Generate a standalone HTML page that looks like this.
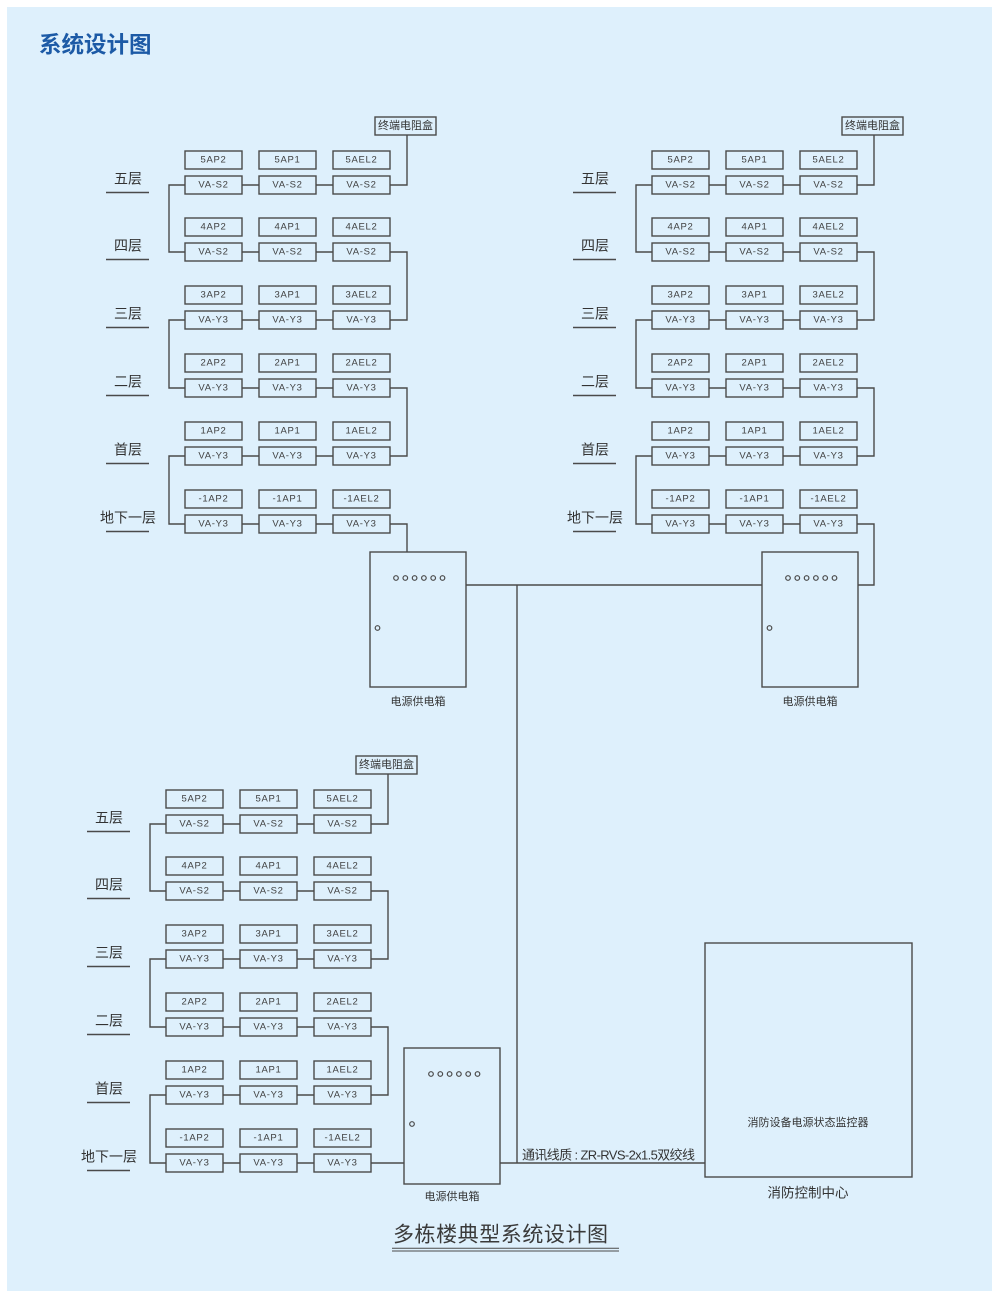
<!DOCTYPE html>
<html>
<head>
<meta charset="utf-8">
<style>
html,body{margin:0;padding:0;background:#ffffff;}
body{width:1000px;height:1301px;overflow:hidden;}
svg{display:block;}
.ln{fill:none;stroke:#4a4a4a;stroke-width:1.4;}
.bx{fill:none;stroke:#4a4a4a;stroke-width:1.4;}
.t{font-family:"Liberation Sans",sans-serif;font-size:9.5px;letter-spacing:0.7px;fill:#3f3f3f;text-anchor:middle;dominant-baseline:central;}
.fl{font-family:"Liberation Sans","Noto Sans CJK SC",sans-serif;font-size:14px;fill:#333;text-anchor:middle;dominant-baseline:central;}
.cn{font-family:"Liberation Sans","Noto Sans CJK SC",sans-serif;font-size:11px;fill:#333;text-anchor:middle;dominant-baseline:central;}
.ul{fill:none;stroke:#4a4a4a;stroke-width:1.5;}
.dot{fill:none;stroke:#4a4a4a;stroke-width:1.2;}
</style>
</head>
<body>
<svg width="1000" height="1301" viewBox="0 0 1000 1301" xmlns="http://www.w3.org/2000/svg">
<rect x="0" y="0" width="1000" height="1301" fill="#ffffff"/>
<rect x="7" y="7" width="985" height="1284" fill="#def0fc"/>
<text x="39" y="45" font-family="'Liberation Sans','Noto Sans CJK SC',sans-serif" font-size="22.5" font-weight="bold" fill="#1c5aa6" dominant-baseline="central">系统设计图</text>

<!-- ===== Building 1 (top-left) ===== -->
<g>
<path class="ln" d="M242 185H259M316 185H333M242 252H259M316 252H333M242 320H259M316 320H333M242 388H259M316 388H333M242 456H259M316 456H333M242 524H259M316 524H333"/>
<path class="ln" d="M185 185H169V252H185M185 320H169V388H185M185 456H169V524H185"/>
<path class="ln" d="M390 252H407V320H390M390 388H407V456H390"/>
<path class="ln" d="M390 185H407V135"/>
<path class="ln" d="M390 524H407V552"/>
<rect class="bx" x="375" y="117" width="61" height="18"/>
<text class="cn" x="405.5" y="126">终端电阻盒</text>
<rect class="bx" x="185" y="151" width="57" height="18"/><rect class="bx" x="259" y="151" width="57" height="18"/><rect class="bx" x="333" y="151" width="57" height="18"/>
<rect class="bx" x="185" y="176" width="57" height="18"/><rect class="bx" x="259" y="176" width="57" height="18"/><rect class="bx" x="333" y="176" width="57" height="18"/>
<rect class="bx" x="185" y="218" width="57" height="18"/><rect class="bx" x="259" y="218" width="57" height="18"/><rect class="bx" x="333" y="218" width="57" height="18"/>
<rect class="bx" x="185" y="243" width="57" height="18"/><rect class="bx" x="259" y="243" width="57" height="18"/><rect class="bx" x="333" y="243" width="57" height="18"/>
<rect class="bx" x="185" y="286" width="57" height="18"/><rect class="bx" x="259" y="286" width="57" height="18"/><rect class="bx" x="333" y="286" width="57" height="18"/>
<rect class="bx" x="185" y="311" width="57" height="18"/><rect class="bx" x="259" y="311" width="57" height="18"/><rect class="bx" x="333" y="311" width="57" height="18"/>
<rect class="bx" x="185" y="354" width="57" height="18"/><rect class="bx" x="259" y="354" width="57" height="18"/><rect class="bx" x="333" y="354" width="57" height="18"/>
<rect class="bx" x="185" y="379" width="57" height="18"/><rect class="bx" x="259" y="379" width="57" height="18"/><rect class="bx" x="333" y="379" width="57" height="18"/>
<rect class="bx" x="185" y="422" width="57" height="18"/><rect class="bx" x="259" y="422" width="57" height="18"/><rect class="bx" x="333" y="422" width="57" height="18"/>
<rect class="bx" x="185" y="447" width="57" height="18"/><rect class="bx" x="259" y="447" width="57" height="18"/><rect class="bx" x="333" y="447" width="57" height="18"/>
<rect class="bx" x="185" y="490" width="57" height="18"/><rect class="bx" x="259" y="490" width="57" height="18"/><rect class="bx" x="333" y="490" width="57" height="18"/>
<rect class="bx" x="185" y="515" width="57" height="18"/><rect class="bx" x="259" y="515" width="57" height="18"/><rect class="bx" x="333" y="515" width="57" height="18"/>
<text class="t" x="213.5" y="160">5AP2</text><text class="t" x="287.5" y="160">5AP1</text><text class="t" x="361.5" y="160">5AEL2</text>
<text class="t" x="213.5" y="185">VA-S2</text><text class="t" x="287.5" y="185">VA-S2</text><text class="t" x="361.5" y="185">VA-S2</text>
<text class="t" x="213.5" y="227">4AP2</text><text class="t" x="287.5" y="227">4AP1</text><text class="t" x="361.5" y="227">4AEL2</text>
<text class="t" x="213.5" y="252">VA-S2</text><text class="t" x="287.5" y="252">VA-S2</text><text class="t" x="361.5" y="252">VA-S2</text>
<text class="t" x="213.5" y="295">3AP2</text><text class="t" x="287.5" y="295">3AP1</text><text class="t" x="361.5" y="295">3AEL2</text>
<text class="t" x="213.5" y="320">VA-Y3</text><text class="t" x="287.5" y="320">VA-Y3</text><text class="t" x="361.5" y="320">VA-Y3</text>
<text class="t" x="213.5" y="363">2AP2</text><text class="t" x="287.5" y="363">2AP1</text><text class="t" x="361.5" y="363">2AEL2</text>
<text class="t" x="213.5" y="388">VA-Y3</text><text class="t" x="287.5" y="388">VA-Y3</text><text class="t" x="361.5" y="388">VA-Y3</text>
<text class="t" x="213.5" y="431">1AP2</text><text class="t" x="287.5" y="431">1AP1</text><text class="t" x="361.5" y="431">1AEL2</text>
<text class="t" x="213.5" y="456">VA-Y3</text><text class="t" x="287.5" y="456">VA-Y3</text><text class="t" x="361.5" y="456">VA-Y3</text>
<text class="t" x="213.5" y="499">-1AP2</text><text class="t" x="287.5" y="499">-1AP1</text><text class="t" x="361.5" y="499">-1AEL2</text>
<text class="t" x="213.5" y="524">VA-Y3</text><text class="t" x="287.5" y="524">VA-Y3</text><text class="t" x="361.5" y="524">VA-Y3</text>
<text class="fl" x="128" y="178.5">五层</text>
<text class="fl" x="128" y="245.5">四层</text>
<text class="fl" x="128" y="313.5">三层</text>
<text class="fl" x="128" y="381.5">二层</text>
<text class="fl" x="128" y="449.5">首层</text>
<text class="fl" x="128" y="517.5">地下一层</text>
<path class="ul" d="M106 192.5H149M106 259.5H149M106 327.5H149M106 395.5H149M106 463.5H149M106 531.5H149"/>
</g>

<!-- ===== Building 2 (top-right) ===== -->
<g transform="translate(467,0)">
<path class="ln" d="M242 185H259M316 185H333M242 252H259M316 252H333M242 320H259M316 320H333M242 388H259M316 388H333M242 456H259M316 456H333M242 524H259M316 524H333"/>
<path class="ln" d="M185 185H169V252H185M185 320H169V388H185M185 456H169V524H185"/>
<path class="ln" d="M390 252H407V320H390M390 388H407V456H390"/>
<path class="ln" d="M390 185H407V135"/>
<path class="ln" d="M390 524H407V585H391"/>
<rect class="bx" x="375" y="117" width="61" height="18"/>
<text class="cn" x="405.5" y="126">终端电阻盒</text>
<rect class="bx" x="185" y="151" width="57" height="18"/><rect class="bx" x="259" y="151" width="57" height="18"/><rect class="bx" x="333" y="151" width="57" height="18"/>
<rect class="bx" x="185" y="176" width="57" height="18"/><rect class="bx" x="259" y="176" width="57" height="18"/><rect class="bx" x="333" y="176" width="57" height="18"/>
<rect class="bx" x="185" y="218" width="57" height="18"/><rect class="bx" x="259" y="218" width="57" height="18"/><rect class="bx" x="333" y="218" width="57" height="18"/>
<rect class="bx" x="185" y="243" width="57" height="18"/><rect class="bx" x="259" y="243" width="57" height="18"/><rect class="bx" x="333" y="243" width="57" height="18"/>
<rect class="bx" x="185" y="286" width="57" height="18"/><rect class="bx" x="259" y="286" width="57" height="18"/><rect class="bx" x="333" y="286" width="57" height="18"/>
<rect class="bx" x="185" y="311" width="57" height="18"/><rect class="bx" x="259" y="311" width="57" height="18"/><rect class="bx" x="333" y="311" width="57" height="18"/>
<rect class="bx" x="185" y="354" width="57" height="18"/><rect class="bx" x="259" y="354" width="57" height="18"/><rect class="bx" x="333" y="354" width="57" height="18"/>
<rect class="bx" x="185" y="379" width="57" height="18"/><rect class="bx" x="259" y="379" width="57" height="18"/><rect class="bx" x="333" y="379" width="57" height="18"/>
<rect class="bx" x="185" y="422" width="57" height="18"/><rect class="bx" x="259" y="422" width="57" height="18"/><rect class="bx" x="333" y="422" width="57" height="18"/>
<rect class="bx" x="185" y="447" width="57" height="18"/><rect class="bx" x="259" y="447" width="57" height="18"/><rect class="bx" x="333" y="447" width="57" height="18"/>
<rect class="bx" x="185" y="490" width="57" height="18"/><rect class="bx" x="259" y="490" width="57" height="18"/><rect class="bx" x="333" y="490" width="57" height="18"/>
<rect class="bx" x="185" y="515" width="57" height="18"/><rect class="bx" x="259" y="515" width="57" height="18"/><rect class="bx" x="333" y="515" width="57" height="18"/>
<text class="t" x="213.5" y="160">5AP2</text><text class="t" x="287.5" y="160">5AP1</text><text class="t" x="361.5" y="160">5AEL2</text>
<text class="t" x="213.5" y="185">VA-S2</text><text class="t" x="287.5" y="185">VA-S2</text><text class="t" x="361.5" y="185">VA-S2</text>
<text class="t" x="213.5" y="227">4AP2</text><text class="t" x="287.5" y="227">4AP1</text><text class="t" x="361.5" y="227">4AEL2</text>
<text class="t" x="213.5" y="252">VA-S2</text><text class="t" x="287.5" y="252">VA-S2</text><text class="t" x="361.5" y="252">VA-S2</text>
<text class="t" x="213.5" y="295">3AP2</text><text class="t" x="287.5" y="295">3AP1</text><text class="t" x="361.5" y="295">3AEL2</text>
<text class="t" x="213.5" y="320">VA-Y3</text><text class="t" x="287.5" y="320">VA-Y3</text><text class="t" x="361.5" y="320">VA-Y3</text>
<text class="t" x="213.5" y="363">2AP2</text><text class="t" x="287.5" y="363">2AP1</text><text class="t" x="361.5" y="363">2AEL2</text>
<text class="t" x="213.5" y="388">VA-Y3</text><text class="t" x="287.5" y="388">VA-Y3</text><text class="t" x="361.5" y="388">VA-Y3</text>
<text class="t" x="213.5" y="431">1AP2</text><text class="t" x="287.5" y="431">1AP1</text><text class="t" x="361.5" y="431">1AEL2</text>
<text class="t" x="213.5" y="456">VA-Y3</text><text class="t" x="287.5" y="456">VA-Y3</text><text class="t" x="361.5" y="456">VA-Y3</text>
<text class="t" x="213.5" y="499">-1AP2</text><text class="t" x="287.5" y="499">-1AP1</text><text class="t" x="361.5" y="499">-1AEL2</text>
<text class="t" x="213.5" y="524">VA-Y3</text><text class="t" x="287.5" y="524">VA-Y3</text><text class="t" x="361.5" y="524">VA-Y3</text>
<text class="fl" x="128" y="178.5">五层</text>
<text class="fl" x="128" y="245.5">四层</text>
<text class="fl" x="128" y="313.5">三层</text>
<text class="fl" x="128" y="381.5">二层</text>
<text class="fl" x="128" y="449.5">首层</text>
<text class="fl" x="128" y="517.5">地下一层</text>
<path class="ul" d="M106 192.5H149M106 259.5H149M106 327.5H149M106 395.5H149M106 463.5H149M106 531.5H149"/>
</g>

<!-- ===== Building 3 (bottom-left) ===== -->
<g transform="translate(-19,639)">
<path class="ln" d="M242 185H259M316 185H333M242 252H259M316 252H333M242 320H259M316 320H333M242 388H259M316 388H333M242 456H259M316 456H333M242 524H259M316 524H333"/>
<path class="ln" d="M185 185H169V252H185M185 320H169V388H185M185 456H169V524H185"/>
<path class="ln" d="M390 252H407V320H390M390 388H407V456H390"/>
<path class="ln" d="M390 185H407V135"/>
<path class="ln" d="M390 524H423"/>
<rect class="bx" x="375" y="117" width="61" height="18"/>
<text class="cn" x="405.5" y="126">终端电阻盒</text>
<rect class="bx" x="185" y="151" width="57" height="18"/><rect class="bx" x="259" y="151" width="57" height="18"/><rect class="bx" x="333" y="151" width="57" height="18"/>
<rect class="bx" x="185" y="176" width="57" height="18"/><rect class="bx" x="259" y="176" width="57" height="18"/><rect class="bx" x="333" y="176" width="57" height="18"/>
<rect class="bx" x="185" y="218" width="57" height="18"/><rect class="bx" x="259" y="218" width="57" height="18"/><rect class="bx" x="333" y="218" width="57" height="18"/>
<rect class="bx" x="185" y="243" width="57" height="18"/><rect class="bx" x="259" y="243" width="57" height="18"/><rect class="bx" x="333" y="243" width="57" height="18"/>
<rect class="bx" x="185" y="286" width="57" height="18"/><rect class="bx" x="259" y="286" width="57" height="18"/><rect class="bx" x="333" y="286" width="57" height="18"/>
<rect class="bx" x="185" y="311" width="57" height="18"/><rect class="bx" x="259" y="311" width="57" height="18"/><rect class="bx" x="333" y="311" width="57" height="18"/>
<rect class="bx" x="185" y="354" width="57" height="18"/><rect class="bx" x="259" y="354" width="57" height="18"/><rect class="bx" x="333" y="354" width="57" height="18"/>
<rect class="bx" x="185" y="379" width="57" height="18"/><rect class="bx" x="259" y="379" width="57" height="18"/><rect class="bx" x="333" y="379" width="57" height="18"/>
<rect class="bx" x="185" y="422" width="57" height="18"/><rect class="bx" x="259" y="422" width="57" height="18"/><rect class="bx" x="333" y="422" width="57" height="18"/>
<rect class="bx" x="185" y="447" width="57" height="18"/><rect class="bx" x="259" y="447" width="57" height="18"/><rect class="bx" x="333" y="447" width="57" height="18"/>
<rect class="bx" x="185" y="490" width="57" height="18"/><rect class="bx" x="259" y="490" width="57" height="18"/><rect class="bx" x="333" y="490" width="57" height="18"/>
<rect class="bx" x="185" y="515" width="57" height="18"/><rect class="bx" x="259" y="515" width="57" height="18"/><rect class="bx" x="333" y="515" width="57" height="18"/>
<text class="t" x="213.5" y="160">5AP2</text><text class="t" x="287.5" y="160">5AP1</text><text class="t" x="361.5" y="160">5AEL2</text>
<text class="t" x="213.5" y="185">VA-S2</text><text class="t" x="287.5" y="185">VA-S2</text><text class="t" x="361.5" y="185">VA-S2</text>
<text class="t" x="213.5" y="227">4AP2</text><text class="t" x="287.5" y="227">4AP1</text><text class="t" x="361.5" y="227">4AEL2</text>
<text class="t" x="213.5" y="252">VA-S2</text><text class="t" x="287.5" y="252">VA-S2</text><text class="t" x="361.5" y="252">VA-S2</text>
<text class="t" x="213.5" y="295">3AP2</text><text class="t" x="287.5" y="295">3AP1</text><text class="t" x="361.5" y="295">3AEL2</text>
<text class="t" x="213.5" y="320">VA-Y3</text><text class="t" x="287.5" y="320">VA-Y3</text><text class="t" x="361.5" y="320">VA-Y3</text>
<text class="t" x="213.5" y="363">2AP2</text><text class="t" x="287.5" y="363">2AP1</text><text class="t" x="361.5" y="363">2AEL2</text>
<text class="t" x="213.5" y="388">VA-Y3</text><text class="t" x="287.5" y="388">VA-Y3</text><text class="t" x="361.5" y="388">VA-Y3</text>
<text class="t" x="213.5" y="431">1AP2</text><text class="t" x="287.5" y="431">1AP1</text><text class="t" x="361.5" y="431">1AEL2</text>
<text class="t" x="213.5" y="456">VA-Y3</text><text class="t" x="287.5" y="456">VA-Y3</text><text class="t" x="361.5" y="456">VA-Y3</text>
<text class="t" x="213.5" y="499">-1AP2</text><text class="t" x="287.5" y="499">-1AP1</text><text class="t" x="361.5" y="499">-1AEL2</text>
<text class="t" x="213.5" y="524">VA-Y3</text><text class="t" x="287.5" y="524">VA-Y3</text><text class="t" x="361.5" y="524">VA-Y3</text>
<text class="fl" x="128" y="178.5">五层</text>
<text class="fl" x="128" y="245.5">四层</text>
<text class="fl" x="128" y="313.5">三层</text>
<text class="fl" x="128" y="381.5">二层</text>
<text class="fl" x="128" y="449.5">首层</text>
<text class="fl" x="128" y="517.5">地下一层</text>
<path class="ul" d="M106 192.5H149M106 259.5H149M106 327.5H149M106 395.5H149M106 463.5H149M106 531.5H149"/>
</g>

<!-- ===== Main trunk lines ===== -->
<path class="ln" d="M466 585H762M517 585V1163M500 1163H705"/>

<!-- ===== Cabinets ===== -->
<g>
<rect class="bx" x="370" y="552" width="96" height="135"/>
<circle class="dot" cx="396" cy="578" r="2.3"/><circle class="dot" cx="405.3" cy="578" r="2.3"/><circle class="dot" cx="414.6" cy="578" r="2.3"/><circle class="dot" cx="423.9" cy="578" r="2.3"/><circle class="dot" cx="433.2" cy="578" r="2.3"/><circle class="dot" cx="442.5" cy="578" r="2.3"/>
<circle class="dot" cx="377.5" cy="628" r="2.3"/>
<text class="cn" x="418" y="702">电源供电箱</text>
</g>
<g>
<rect class="bx" x="762" y="552" width="96" height="135"/>
<circle class="dot" cx="788" cy="578" r="2.3"/><circle class="dot" cx="797.3" cy="578" r="2.3"/><circle class="dot" cx="806.6" cy="578" r="2.3"/><circle class="dot" cx="815.9" cy="578" r="2.3"/><circle class="dot" cx="825.2" cy="578" r="2.3"/><circle class="dot" cx="834.5" cy="578" r="2.3"/>
<circle class="dot" cx="769.5" cy="628" r="2.3"/>
<text class="cn" x="810" y="702">电源供电箱</text>
</g>
<g>
<rect class="bx" x="404" y="1048" width="96" height="136"/>
<circle class="dot" cx="431" cy="1074" r="2.3"/><circle class="dot" cx="440.3" cy="1074" r="2.3"/><circle class="dot" cx="449.6" cy="1074" r="2.3"/><circle class="dot" cx="458.9" cy="1074" r="2.3"/><circle class="dot" cx="468.2" cy="1074" r="2.3"/><circle class="dot" cx="477.5" cy="1074" r="2.3"/>
<circle class="dot" cx="412" cy="1124" r="2.3"/>
<text class="cn" x="452" y="1197">电源供电箱</text>
</g>

<!-- ===== Communication line label ===== -->
<text x="522" y="1155" font-family="'Liberation Sans','Noto Sans CJK SC',sans-serif" font-size="13" fill="#333" dominant-baseline="central" textLength="173" lengthAdjust="spacing">通讯线质 : ZR-RVS-2x1.5双绞线</text>

<!-- ===== Fire control center ===== -->
<rect class="bx" x="705" y="943" width="207" height="234"/>
<text class="cn" x="808" y="1123">消防设备电源状态监控器</text>
<text x="808" y="1193" font-family="'Liberation Sans','Noto Sans CJK SC',sans-serif" font-size="13.5" fill="#333" text-anchor="middle" dominant-baseline="central">消防控制中心</text>

<!-- ===== Caption ===== -->
<text x="393" y="1235" font-family="'Liberation Sans','Noto Sans CJK SC',sans-serif" font-size="21" fill="#3a3a3a" dominant-baseline="central" textLength="215" lengthAdjust="spacing">多栋楼典型系统设计图</text>
<path d="M392 1248.3H619M392 1251H619" fill="none" stroke="#4a4a4a" stroke-width="1"/>
</svg>
</body>
</html>
